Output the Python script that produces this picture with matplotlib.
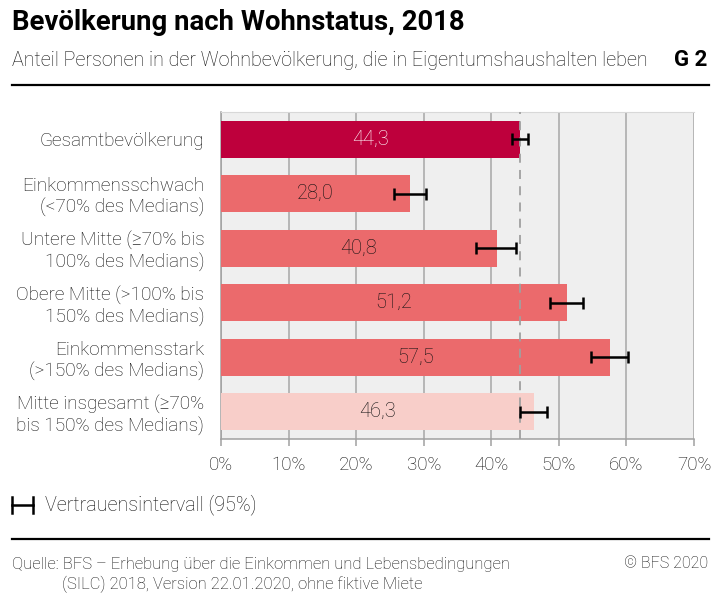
import matplotlib
matplotlib.use("Agg")
import matplotlib.pyplot as plt
from matplotlib.lines import Line2D

plt.rcParams['font.family'] = ['Roboto', 'DejaVu Sans']
plt.rcParams['font.weight'] = 'light'

categories = ["Gesamtbevölkerung",
              "Einkommensschwach\n(<70% des Medians)",
              "Untere Mitte (≥70% bis\n100% des Medians)",
              "Obere Mitte (>100% bis\n150% des Medians)",
              "Einkommensstark\n(>150% des Medians)",
              "Mitte insgesamt (≥70%\nbis 150% des Medians)"]
values = [44.3, 28.0, 40.8, 51.2, 57.5, 46.3]
ci_low = [43.0, 25.6, 37.8, 48.7, 54.8, 44.3]
ci_high = [45.5, 30.4, 43.7, 53.6, 60.2, 48.2]
ticks = [0, 10, 20, 30, 40, 50, 60, 70]

dark = "#BE003C"
mid = "#EB6A6C"
light = "#F8CEC9"
colors = [dark, mid, mid, mid, mid, light]
txtcol = "#111111"

fig = plt.figure(figsize=(7.21, 5.99), dpi=100)
W, H = 721, 599
ax = fig.add_axes([221 / W, (H - 439) / H, (694 - 221) / W, (439 - 112) / H])
ax.set_facecolor("#EFEFEF")

y = list(range(len(categories)))
ax.barh(y, values, height=0.67, color=colors, zorder=3)
xerr = [[v - lo for v, lo in zip(values, ci_low)],
        [hi - v for v, hi in zip(values, ci_high)]]
ax.errorbar(values, y, xerr=xerr, fmt="none", ecolor="black",
            elinewidth=1.8, capsize=4.5, capthick=1.8, zorder=5)

ax.axvline(values[0], color="#A0A0A0", lw=1.3, ls=(0, (5, 4)), zorder=4)

for i, v in enumerate(values):
    ax.text(v / 2, i, f"{v:.1f}".replace(".", ","), ha="center", va="center",
            fontsize=14.5, color="white" if i == 0 else txtcol, zorder=6)

ax.set_xlim(0, 70)
ax.set_ylim(5.5, -0.5)
ax.set_xticks(ticks)
ax.set_xticklabels([f"{t}%" for t in ticks], fontsize=13.5, color=txtcol)
ax.set_yticks(y)
ax.set_yticklabels(categories, fontsize=13.7, color=txtcol, linespacing=1.2)
ax.tick_params(axis="y", length=0, pad=12)
ax.tick_params(axis="x", length=5, color="#A0A0A0", width=1.1, pad=7)
ax.grid(axis="x", color="#A6A6A6", lw=1.1, zorder=1)
ax.set_axisbelow(True)
for s in ["top", "right"]:
    ax.spines[s].set_visible(False)
for s in ["left", "bottom"]:
    ax.spines[s].set_color("#A0A0A0")
    ax.spines[s].set_linewidth(1.1)
ax.spines["top"].set_visible(True)
ax.spines["top"].set_color("#D8D8D8")
ax.spines["top"].set_linewidth(0.8)

# header
fig.text(12 / W, 1 - 22 / H, "Bevölkerung nach Wohnstatus, 2018", fontsize=19.8,
         fontweight="bold", color="black", ha="left", va="center")
fig.text(12 / W, 1 - 60 / H,
         "Anteil Personen in der Wohnbevölkerung, die in Eigentumshaushalten leben",
         fontsize=14.2, color=txtcol, ha="left", va="center")
fig.text(707 / W, 1 - 60 / H, "G 2", fontsize=16, fontweight="bold",
         color="black", ha="right", va="center")
fig.add_artist(Line2D([12 / W, 709 / W], [1 - 85 / H, 1 - 85 / H], color="black", lw=1.6))

# legend
ly = 1 - 505 / H
fig.add_artist(Line2D([12 / W, 33 / W], [ly, ly], color="black", lw=1.8))
fig.add_artist(Line2D([12 / W, 12 / W], [ly - 8 / H, ly + 8 / H], color="black", lw=1.8))
fig.add_artist(Line2D([33 / W, 33 / W], [ly - 8 / H, ly + 8 / H], color="black", lw=1.8))
fig.text(45 / W, ly, "Vertrauensintervall (95%)", fontsize=14.2, color=txtcol,
         ha="left", va="center")

# footer
fig.add_artist(Line2D([12 / W, 709 / W], [1 - 539 / H, 1 - 539 / H], color="black", lw=1.6))
fig.text(12 / W, 1 - 564 / H,
         "Quelle: BFS – Erhebung über die Einkommen und Lebensbedingungen",
         fontsize=12, color=txtcol, ha="left", va="center")
fig.text(62 / W, 1 - 584 / H, "(SILC) 2018, Version 22.01.2020, ohne fiktive Miete",
         fontsize=12, color=txtcol, ha="left", va="center")
fig.text(708 / W, 1 - 564 / H, "© BFS 2020", fontsize=11.5, color=txtcol,
         ha="right", va="center")

fig.savefig("out.png", dpi=100, facecolor="white")
